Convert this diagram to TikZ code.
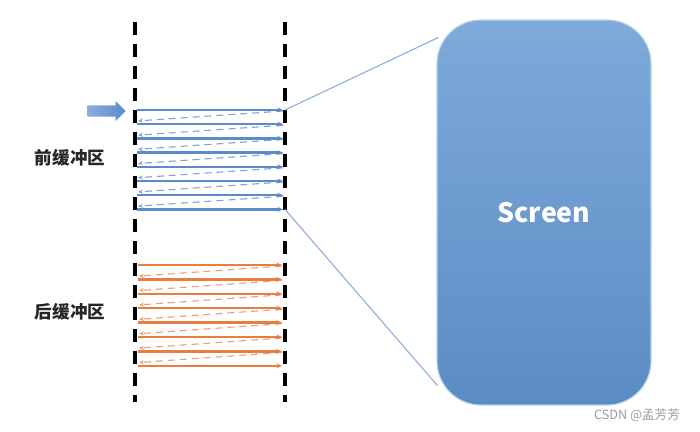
\documentclass[tikz,border=0pt]{standalone}
\usepackage{fontspec}
\setmainfont{Noto Sans CJK SC}
\usetikzlibrary{positioning,arrows.meta,shapes.arrows,calc}
\definecolor{bufblue}{HTML}{5B8BCB}
\definecolor{bufblueret}{HTML}{7FA3D6}
\definecolor{buforange}{HTML}{E97C3F}
\definecolor{buforangeret}{HTML}{EE9C7A}
\definecolor{linkblue}{HTML}{8EB0DC}
\definecolor{scrtop}{HTML}{7EAADA}
\definecolor{scrbot}{HTML}{5A8CC4}
\definecolor{inkgrey}{HTML}{9A9A9A}
\tikzset{
  buf rail/.style={line width=2.5pt, black, dash pattern=on 9.2pt off 6.4pt},
  buf line/.style={line width=1.6pt, -{Stealth[length=4pt, width=3.5pt]}},
  buf ret/.style={line width=0.8pt, dash pattern=on 5pt off 3.5pt, -{Stealth[length=3.5pt, width=3pt]}},
  buf label/.style={font=\bfseries\fontsize{12.5}{14}\selectfont, text=black!85},
  link/.style={linkblue, line width=0.8pt},
  scr box/.style={rounded corners=11mm, minimum width=53.5mm, minimum height=96.25mm,
                  top color=scrtop, bottom color=scrbot, draw=scrtop!55!white, line width=0.8pt,
                  text=white, font=\bfseries\fontsize{19}{22}\selectfont},
  feed arrow/.style={single arrow, minimum height=9.5mm, inner xsep=0pt, inner ysep=1.35mm,
                     single arrow head extend=1.1mm, left color=bufblue!70, right color=bufblue, draw=none},
  wm text/.style={font=\fontsize{9}{10}\selectfont, text=inkgrey},
}
\begin{document}
\begin{tikzpicture}[x=0.25mm, y=-0.25mm]
  \useasboundingbox (0,0) rectangle (700,431);
  % rails
  \coordinate (railLt) at (135,22); \coordinate (railLb) at (135,402);
  \coordinate (railRt) at (285,22); \coordinate (railRb) at (285,402);
  \draw[buf rail] (railLt) -- (railLb);
  \draw[buf rail] (railRt) -- (railRb);
  % front buffer
  \foreach \i in {0,...,7} {
    \coordinate (fl\i) at (137,110+14.2*\i);
    \coordinate (fr\i) at (283,110+14.2*\i);
  }
  \foreach \i [evaluate=\i as \j using int(\i+1)] in {0,...,6}
    \draw[buf ret, bufblueret] ($(fr\i)+(0,1)$) -- ($(fl\j)+(1,-3.3)$);
  \foreach \i in {0,...,7} \draw[buf line, bufblue] (fl\i) -- (fr\i);
  % back buffer
  \foreach \i in {0,...,7} {
    \coordinate (bl\i) at (138,265+14.4*\i);
    \coordinate (br\i) at (282,265+14.4*\i);
  }
  \foreach \i [evaluate=\i as \j using int(\i+1)] in {0,...,6}
    \draw[buf ret, buforangeret] ($(br\i)+(0,1)$) -- ($(bl\j)+(1,-3.3)$);
  \foreach \i in {0,...,7} \draw[buf line, buforange] (bl\i) -- (br\i);
  \node[feed arrow, anchor=tip] (feed) at (126,111) {};
  \node[buf label] (frontlbl) at (70,158) {前缓冲区};
  \node[buf label] (backlbl) at (70,312) {后缓冲区};
  \node[scr box] (scr) at (544,212.5) {Screen};
  \path (scr.north west) ++(2,18) coordinate (scrtl);
  \path (scr.south west) ++(1,-20) coordinate (scrbl);
  \draw[link] (fr0) ++(2,0) -- (scrtl);
  \draw[link] (fr7) ++(2,0) -- (scrbl);
  \node[wm text] (wm) at (637,415) {CSDN @孟芳芳};
\end{tikzpicture}
\end{document}
